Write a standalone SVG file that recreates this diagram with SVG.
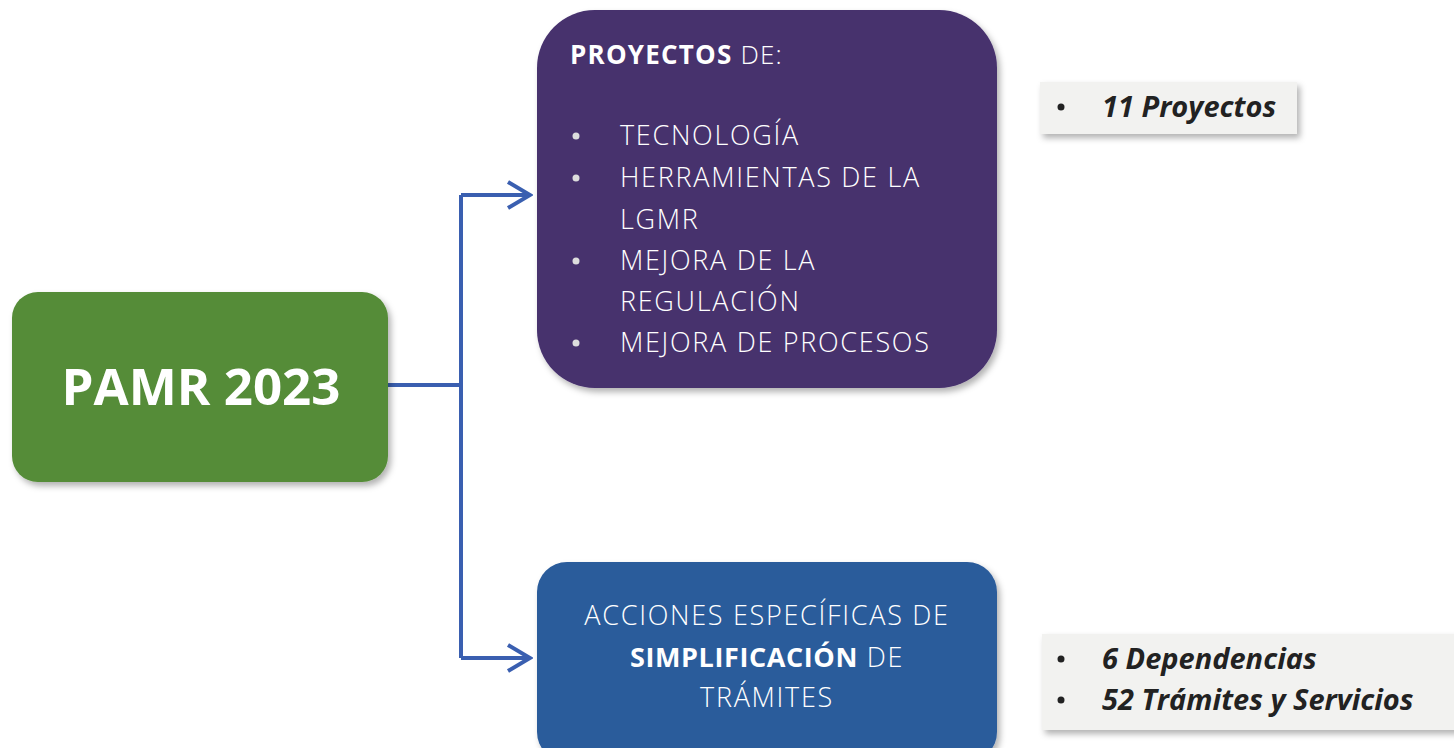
<svg xmlns="http://www.w3.org/2000/svg" width="1454" height="748" viewBox="0 0 1454 748">
<defs>
<filter id="sh" x="-10%" y="-10%" width="125%" height="130%">
<feDropShadow dx="3" dy="4" stdDeviation="3" flood-color="#000" flood-opacity="0.3"/>
</filter>
<marker id="chev" viewBox="0 0 30 32" refX="27" refY="16" markerWidth="30" markerHeight="32" markerUnits="userSpaceOnUse" orient="auto">
<path d="M5,3 L27,16 L5,29" fill="none" stroke="#3a5fb0" stroke-width="4"/>
</marker>
<style>
.w{fill:#fff;font-family:"Open Sans","Liberation Sans",sans-serif;}
.lst{font-size:27px;font-weight:300;letter-spacing:1.7px;}
.note{fill:#222;font-family:"Open Sans","Liberation Sans",sans-serif;font-weight:bold;font-style:italic;font-size:29px;}
.con{fill:none;stroke:#3a5fb0;stroke-width:4;}
</style>
</defs>
<rect width="1454" height="748" fill="#fff"/>
<g id="connectors">
<path class="con" d="M388,385 H461 M461,195 V658"/>
<path class="con" d="M461,195 H530" marker-end="url(#chev)"/>
<path class="con" d="M461,658 H530" marker-end="url(#chev)"/>
</g>
<g id="pamr">
<rect x="12" y="292" width="376" height="190" rx="26" fill="#548c37" filter="url(#sh)"/>
<text class="w" x="201" y="405" text-anchor="middle" font-size="51" font-weight="bold">PAMR 2023</text>
</g>
<g id="proyectos">
<rect x="537" y="10" width="460" height="378" rx="58" fill="#46306d" filter="url(#sh)"/>
<text class="w" x="570" y="64" font-size="26" letter-spacing="1.2"><tspan font-weight="bold">PROYECTOS</tspan><tspan font-weight="300"> DE:</tspan></text>
<g class="w lst">
<circle cx="576" cy="136" r="3.5" fill="#ddd"/>
<circle cx="576" cy="178" r="3.5" fill="#ddd"/>
<circle cx="576" cy="261" r="3.5" fill="#ddd"/>
<circle cx="576" cy="343" r="3.5" fill="#ddd"/>
<text x="620" y="145">TECNOLOGÍA</text>
<text x="620" y="187">HERRAMIENTAS DE LA</text>
<text x="620" y="229">LGMR</text>
<text x="620" y="270">MEJORA DE LA</text>
<text x="620" y="311">REGULACIÓN</text>
<text x="620" y="352">MEJORA DE PROCESOS</text>
</g>
</g>
<g id="acciones">
<rect x="537" y="562" width="460" height="200" rx="30" fill="#2b5b9b" filter="url(#sh)"/>
<g class="w lst" text-anchor="middle">
<text x="767" y="625">ACCIONES ESPECÍFICAS DE</text>
<text x="767" y="667"><tspan font-weight="bold" letter-spacing="0.6">SIMPLIFICACIÓN</tspan> DE</text>
<text x="767" y="707">TRÁMITES</text>
</g>
</g>
<g id="nota1">
<rect x="1040" y="82" width="257" height="52" fill="#f2f2f0" filter="url(#sh)"/>
<circle cx="1061" cy="107" r="3.5" fill="#222"/>
<text class="note" x="1102" y="117">11 Proyectos</text>
</g>
<g id="nota2">
<rect x="1042" y="634" width="420" height="96" fill="#f2f2f0" filter="url(#sh)"/>
<circle cx="1061" cy="659" r="3.5" fill="#222"/>
<circle cx="1061" cy="700" r="3.5" fill="#222"/>
<text class="note" x="1102" y="669">6 Dependencias</text>
<text class="note" x="1102" y="710">52 Trámites y Servicios</text>
</g>
</svg>
